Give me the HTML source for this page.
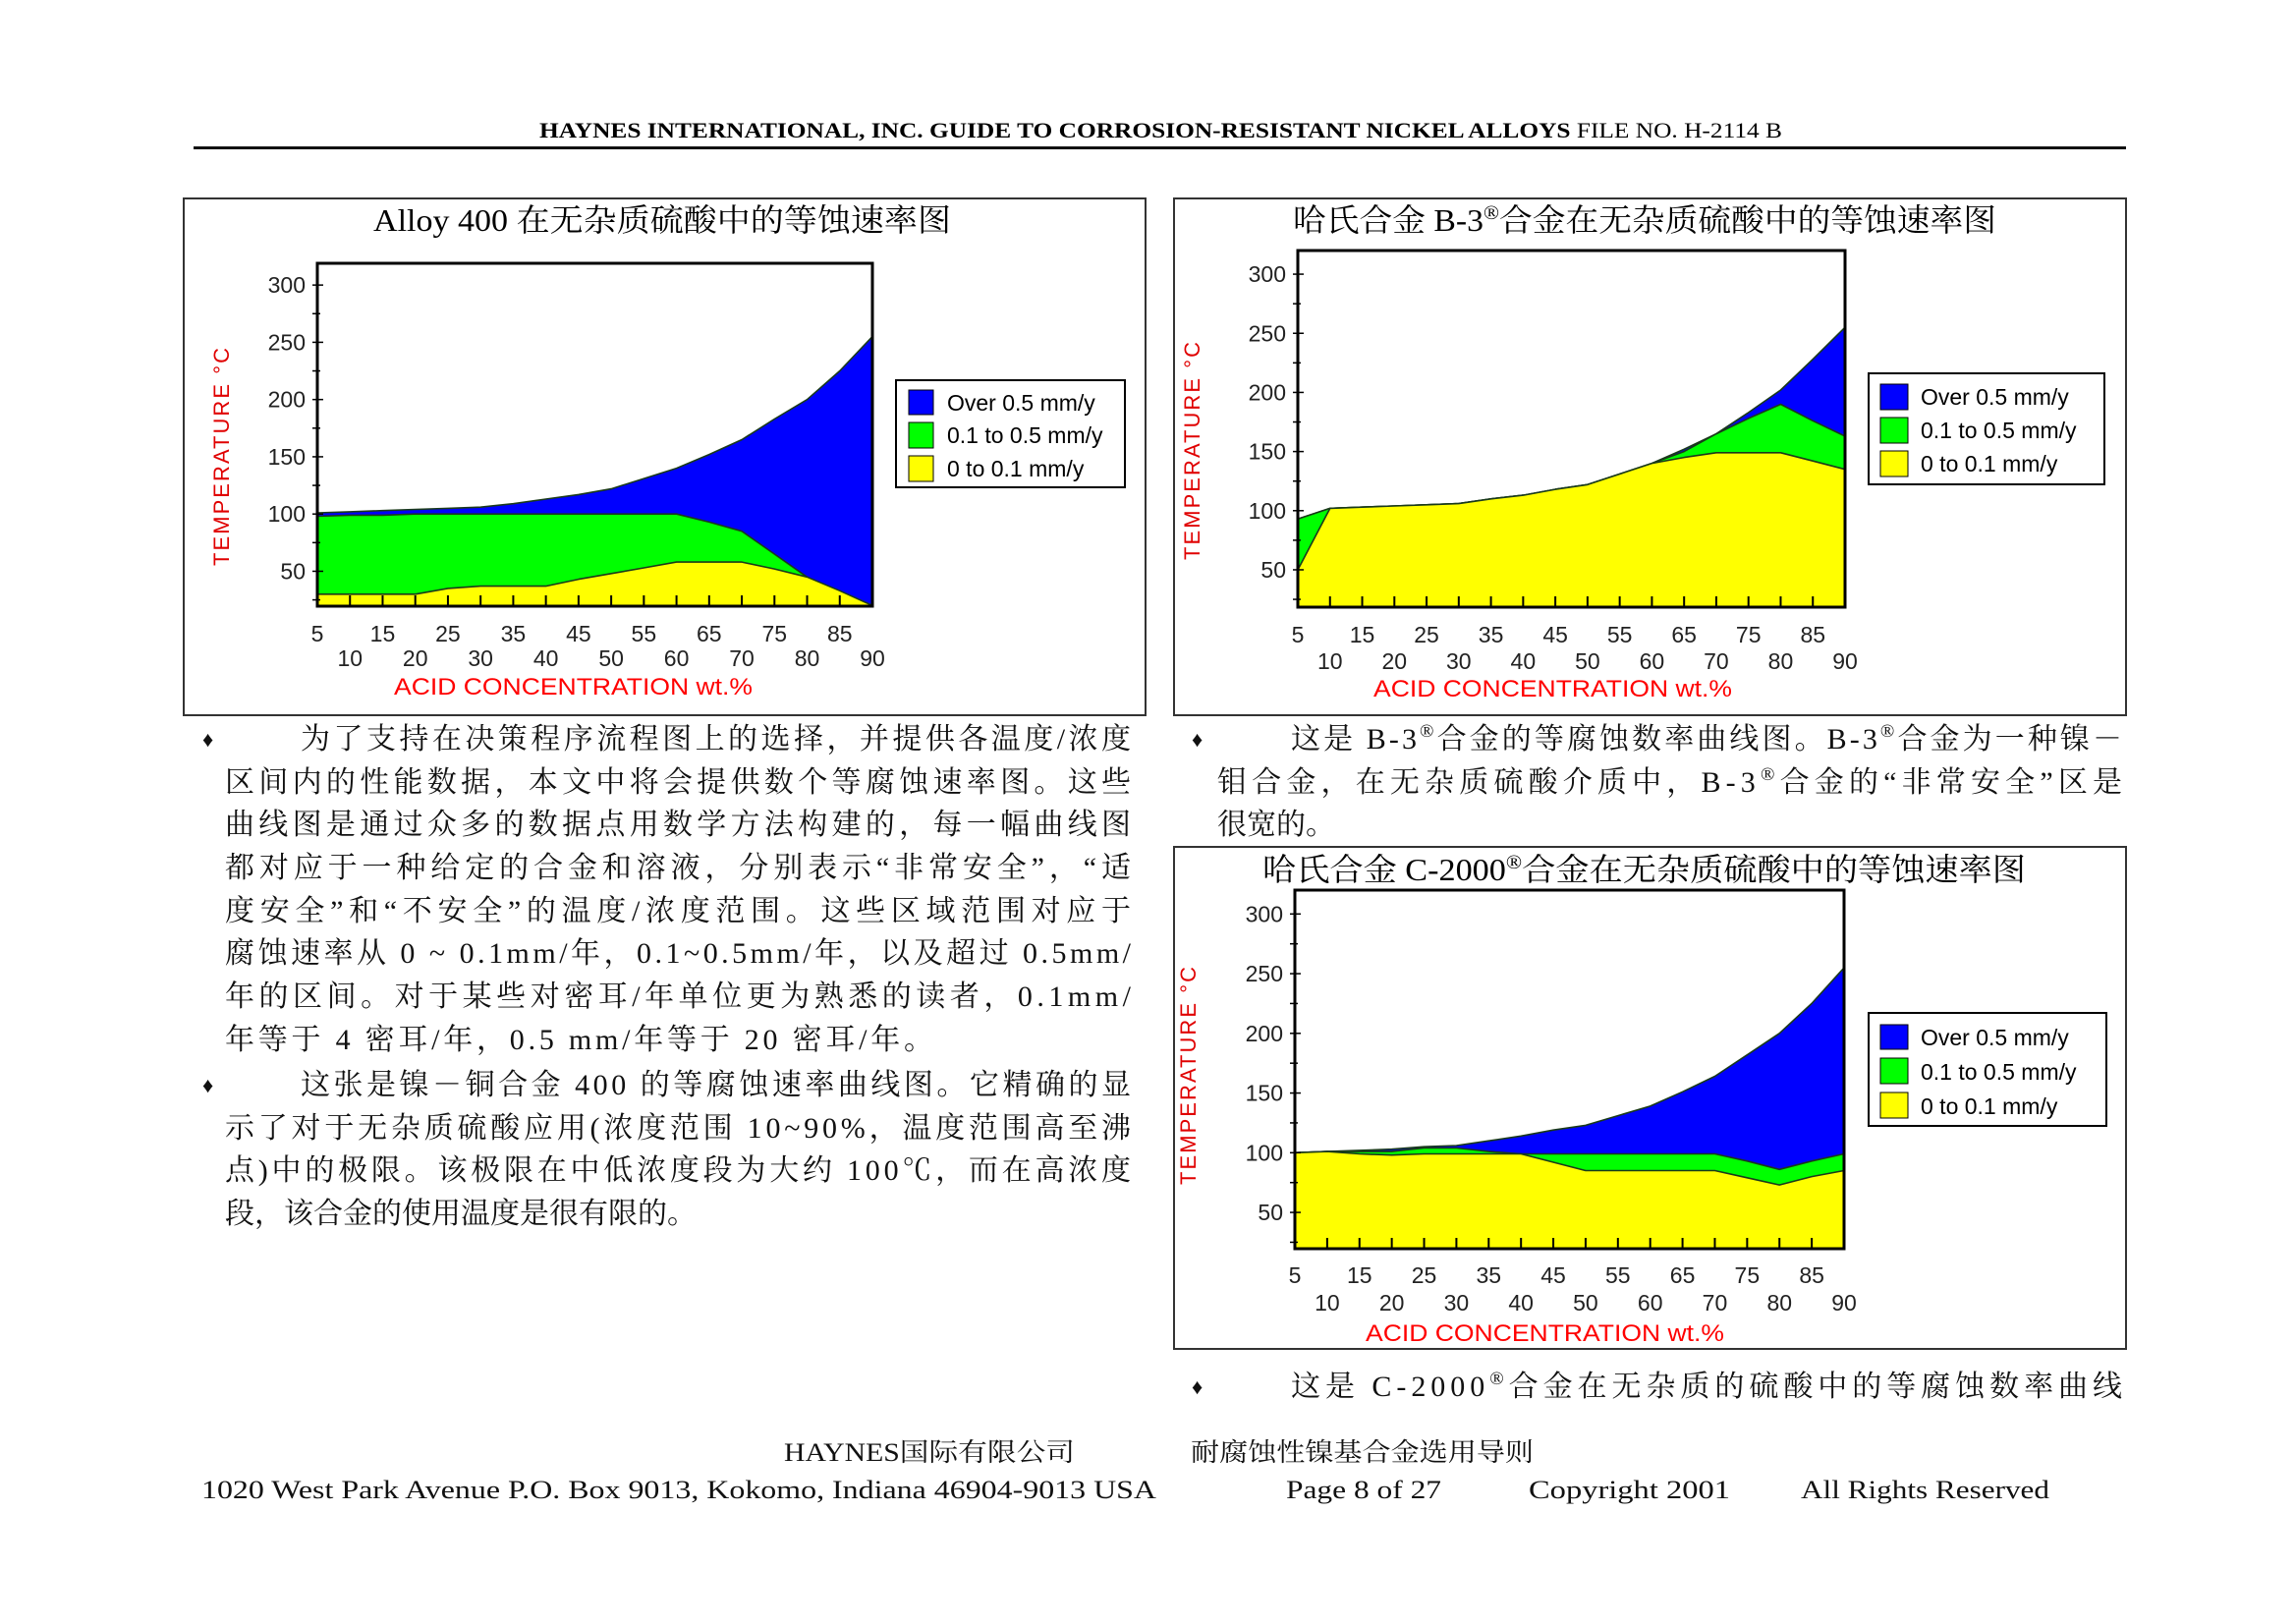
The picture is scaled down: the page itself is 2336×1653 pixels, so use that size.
<!DOCTYPE html>
<html><head><meta charset="utf-8"><style>
html,body{margin:0;padding:0;background:#fff;}
svg{display:block;}
.ser{font-family:"Liberation Serif","Noto Serif CJK SC",serif;}
.sans{font-family:"Liberation Sans","Noto Sans CJK SC",sans-serif;}
</style></head><body>
<svg id="page" width="2336" height="1653" viewBox="0 0 2336 1653" xmlns="http://www.w3.org/2000/svg">
<rect x="0" y="0" width="2336" height="1653" fill="#fff"/>
<text class="ser" x="549" y="140" font-size="22" font-weight="bold" textLength="1265" lengthAdjust="spacingAndGlyphs">HAYNES INTERNATIONAL, INC.    GUIDE TO CORROSION-RESISTANT NICKEL ALLOYS    <tspan font-weight="normal">FILE NO. H-2114 B</tspan></text>
<rect x="197" y="149" width="1967" height="3" fill="#111"/>

<rect x="187" y="202" width="979" height="526" fill="none" stroke="#333" stroke-width="2"/>
<rect x="1195" y="202" width="969" height="526" fill="none" stroke="#333" stroke-width="2"/>
<rect x="1195" y="862" width="969" height="511" fill="none" stroke="#333" stroke-width="2"/>

<text class="ser" x="380" y="235" font-size="32" textLength="588" lengthAdjust="spacingAndGlyphs">Alloy 400 在无杂质硫酸中的等蚀速率图</text>
<text class="ser" x="1316" y="235" font-size="32" textLength="716" lengthAdjust="spacingAndGlyphs">哈氏合金 B-3<tspan font-size="20" dy="-12">®</tspan><tspan dy="12">合金在无杂质硫酸中的等蚀速率图</tspan></text>
<text class="ser" x="1285" y="896" font-size="32" textLength="777" lengthAdjust="spacingAndGlyphs">哈氏合金 C-2000<tspan font-size="20" dy="-12">®</tspan><tspan dy="12">合金在无杂质硫酸中的等蚀速率图</tspan></text>

<g id="chart1"></g>
<g id="chart2"></g>
<g id="chart3"></g>

<!-- legends -->
<g class="sans" font-size="23">
<rect x="912" y="387" width="233" height="109" fill="#fff" stroke="#000" stroke-width="2"/>
<rect x="925" y="397" width="25" height="25" fill="#0000ff" stroke="#000"/>
<rect x="925" y="430" width="25" height="26" fill="#00ff00" stroke="#000"/>
<rect x="925" y="464" width="25" height="26" fill="#ffff00" stroke="#000"/>
<text x="964" y="418">Over 0.5 mm/y</text>
<text x="964" y="451">0.1 to 0.5 mm/y</text>
<text x="964" y="485">0 to 0.1 mm/y</text>
</g>
<g class="sans" font-size="23">
<rect x="1902" y="380" width="240" height="113" fill="#fff" stroke="#000" stroke-width="2"/>
<rect x="1914" y="391" width="28" height="26" fill="#0000ff" stroke="#000"/>
<rect x="1914" y="425" width="28" height="26" fill="#00ff00" stroke="#000"/>
<rect x="1914" y="459" width="28" height="26" fill="#ffff00" stroke="#000"/>
<text x="1955" y="412">Over 0.5 mm/y</text>
<text x="1955" y="446">0.1 to 0.5 mm/y</text>
<text x="1955" y="480">0 to 0.1 mm/y</text>
</g>
<g class="sans" font-size="23">
<rect x="1902" y="1031" width="242" height="115" fill="#fff" stroke="#000" stroke-width="2"/>
<rect x="1914" y="1043" width="28" height="25" fill="#0000ff" stroke="#000"/>
<rect x="1914" y="1077" width="28" height="26" fill="#00ff00" stroke="#000"/>
<rect x="1914" y="1112" width="28" height="26" fill="#ffff00" stroke="#000"/>
<text x="1955" y="1064">Over 0.5 mm/y</text>
<text x="1955" y="1099">0.1 to 0.5 mm/y</text>
<text x="1955" y="1134">0 to 0.1 mm/y</text>
</g>

<!-- left paragraphs -->
<g class="ser" font-size="30" fill="#111">
<text x="206" y="760" font-size="22">♦</text>
<text x="306" y="762" textLength="845" lengthAdjust="spacing">为了支持在决策程序流程图上的选择，并提供各温度/浓度</text>
<text x="229" y="806" textLength="922" lengthAdjust="spacing">区间内的性能数据，本文中将会提供数个等腐蚀速率图。这些</text>
<text x="229" y="849" textLength="922" lengthAdjust="spacing">曲线图是通过众多的数据点用数学方法构建的，每一幅曲线图</text>
<text x="229" y="893" textLength="922" lengthAdjust="spacing">都对应于一种给定的合金和溶液，分别表示“非常安全”，“适</text>
<text x="229" y="937" textLength="922" lengthAdjust="spacing">度安全”和“不安全”的温度/浓度范围。这些区域范围对应于</text>
<text x="229" y="980" textLength="922" lengthAdjust="spacing">腐蚀速率从 0 ~ 0.1mm/年，0.1~0.5mm/年，以及超过 0.5mm/</text>
<text x="229" y="1024" textLength="922" lengthAdjust="spacing">年的区间。对于某些对密耳/年单位更为熟悉的读者，0.1mm/</text>
<text x="229" y="1068" textLength="721" lengthAdjust="spacing">年等于 4 密耳/年，0.5 mm/年等于 20 密耳/年。</text>
<text x="206" y="1112" font-size="22">♦</text>
<text x="306" y="1114" textLength="845" lengthAdjust="spacing">这张是镍－铜合金 400 的等腐蚀速率曲线图。它精确的显</text>
<text x="229" y="1158" textLength="922" lengthAdjust="spacing">示了对于无杂质硫酸应用(浓度范围 10~90%，温度范围高至沸</text>
<text x="229" y="1201" textLength="922" lengthAdjust="spacing">点)中的极限。该极限在中低浓度段为大约 100℃，而在高浓度</text>
<text x="229" y="1245" textLength="480" lengthAdjust="spacing">段，该合金的使用温度是很有限的。</text>
</g>

<!-- right paragraphs -->
<g class="ser" font-size="30" fill="#111">
<text x="1213" y="760" font-size="22">♦</text>
<text x="1314" y="762" textLength="846" lengthAdjust="spacing">这是 B-3<tspan font-size="19" dy="-12">®</tspan><tspan dy="12">合金的等腐蚀数率曲线图。B-3</tspan><tspan font-size="19" dy="-12">®</tspan><tspan dy="12">合金为一种镍－</tspan></text>
<text x="1239" y="806" textLength="921" lengthAdjust="spacing">钼合金，在无杂质硫酸介质中，B-3<tspan font-size="19" dy="-12">®</tspan><tspan dy="12">合金的“非常安全”区是</tspan></text>
<text x="1239" y="849">很宽的。</text>
<text x="1213" y="1419" font-size="22">♦</text>
<text x="1314" y="1421" textLength="846" lengthAdjust="spacing">这是 C-2000<tspan font-size="19" dy="-12">®</tspan><tspan dy="12">合金在无杂质的硫酸中的等腐蚀数率曲线</tspan></text>
</g>

<!-- footer -->
<g class="ser" font-size="26" fill="#111">
<text x="798" y="1487" textLength="296" lengthAdjust="spacingAndGlyphs">HAYNES国际有限公司</text>
<text x="1212" y="1487" textLength="349" lengthAdjust="spacingAndGlyphs">耐腐蚀性镍基合金选用导则</text>
<text x="205" y="1525" textLength="972" lengthAdjust="spacingAndGlyphs">1020 West Park Avenue P.O. Box 9013, Kokomo, Indiana 46904-9013 USA</text>
<text x="1309" y="1525" textLength="158" lengthAdjust="spacingAndGlyphs">Page 8 of 27</text>
<text x="1556" y="1525" textLength="205" lengthAdjust="spacingAndGlyphs">Copyright 2001</text>
<text x="1833" y="1525" textLength="253" lengthAdjust="spacingAndGlyphs">All Rights Reserved</text>
</g>
</svg>
<script>
const xCats = [5,10,15,20,25,30,35,40,45,50,55,60,65,70,75,80,85,90];
const yTickLabels = [50,100,150,200,250,300];
const xTopLabels = [5,15,25,35,45,55,65,75,85];
const xBottomLabels = [10,20,30,40,50,60,70,80,90];
// Chart 1: Alloy 400
const c1Over = [101,102,103,104,105,106,109,113,117,122,131,140,152,165,183,200,225,255];
const c1Mid  = [98,99,99,100,100,100,100,100,100,100,100,100,93,85,65,45,30,20];
const c1Low  = [30,30,30,30,35,37,37,37,43,48,53,58,58,58,52,45,33,20];
// Chart 2: B-3
const c2Over = [93,102,103,104,105,106,110,113,118,122,131,140,152,165,183,202,228,255];
const c2Mid  = [93,102,103,104,105,106,110,113,118,122,131,140,150,165,178,190,176,163];
const c2Low  = [50,102,103,104,105,106,110,113,118,122,131,140,145,149,149,149,142,135];
// Chart 3: C-2000
const c3Over = [100,101,102,103,105,106,110,114,119,123,131,139,151,164,182,200,225,255];
const c3Mid  = [100,101,101,101,104,104,101,99,99,99,99,99,99,99,93,86,93,99];
const c3Low  = [100,101,99,98,99,99,99,99,92,85,85,85,85,85,79,73,80,85];

const NS = 'http://www.w3.org/2000/svg';
function mk(tag, attrs, parent){
  const e = document.createElementNS(NS, tag);
  for (const k in attrs) e.setAttribute(k, attrs[k]);
  parent.appendChild(e);
  return e;
}
function drawChart(gid, G, over, mid, low){
  const g = document.getElementById(gid);
  const xs = v => G.L + (v - 5) / 85 * (G.R - G.L);
  const ys = v => G.B - (v - G.yMin) / (G.yMax - G.yMin) * (G.B - G.T);
  const area = (arr, color, name) => {
    let d = 'M' + xs(xCats[0]) + ',' + G.B;
    arr.forEach((v,i)=>{ d += ' L' + xs(xCats[i]).toFixed(1) + ',' + ys(v).toFixed(1); });
    d += ' L' + xs(xCats[xCats.length-1]) + ',' + G.B + ' Z';
    const p = mk('path', {d:d, fill:color, stroke:'#1a3a1a', 'stroke-width':'1.6', 'stroke-linejoin':'round'}, g);
    
    
  };
  area(over, '#0000ff', 'area-over-0.5');
  area(mid, '#00ff00', 'area-0.1-to-0.5');
  area(low, '#ffff00', 'area-0-to-0.1');
  const fr = mk('rect', {x:G.L, y:G.T, width:G.R-G.L, height:G.B-G.T, fill:'none', stroke:'#000', 'stroke-width':'3'}, g);
  
  
  // x ticks inside bottom
  xCats.forEach(v=>{
    const t = mk('line', {x1:xs(v), x2:xs(v), y1:G.B, y2:G.B-11, stroke:'#000', 'stroke-width':'2'}, g);
    
    
  });
  // y ticks
  for (let v = 25; v <= 300; v += 25){
    const t = mk('line', {x1:G.L-5, x2:G.L+(v%50===0?6:3), y1:ys(v), y2:ys(v), stroke:'#000', 'stroke-width':'1.5'}, g);
    
    
  }
  yTickLabels.forEach(v=>{
    const t = mk('text', {x:G.L-12, y:ys(v)+8, 'text-anchor':'end', 'font-size':'23', 'class':'sans', fill:'#222'}, g);
    t.textContent = v;
    
    
  });
  xTopLabels.forEach(v=>{
    const t = mk('text', {x:xs(v), y:G.xr1+8, 'text-anchor':'middle', 'font-size':'23', 'class':'sans', fill:'#222'}, g);
    t.textContent = v;
    
    
  });
  xBottomLabels.forEach(v=>{
    const t = mk('text', {x:xs(v), y:G.xr2+8, 'text-anchor':'middle', 'font-size':'23', 'class':'sans', fill:'#222'}, g);
    t.textContent = v;
    
    
  });
  const xt = mk('text', {x:G.xtX, y:G.xtY+9, 'font-size':'24', 'class':'sans', fill:'#ff0000', textLength:'365', lengthAdjust:'spacingAndGlyphs'}, g);
  xt.textContent = 'ACID CONCENTRATION  wt.%';
  
  
  const yt = mk('text', {x:0, y:0, 'font-size':'22', 'class':'sans', fill:'#e00000', 'text-anchor':'middle', textLength:'222', lengthAdjust:'spacing', transform:'translate(' + (G.ytX+8) + ',' + G.ytY + ') rotate(-90)'}, g);
  yt.textContent = 'TEMPERATURE  °C';
  
  
}
drawChart('chart1', {L:323, R:888, T:268, B:617, yMin:19.5, yMax:319, xr1:645, xr2:670, xtX:401, xtY:698, ytX:225, ytY:465}, c1Over, c1Mid, c1Low);
drawChart('chart2', {L:1321, R:1878, T:255, B:618, yMin:18.4, yMax:320, xr1:646, xr2:673, xtX:1398, xtY:700, ytX:1213, ytY:459}, c2Over, c2Mid, c2Low);
drawChart('chart3', {L:1318, R:1877, T:906, B:1271, yMin:19.6, yMax:320, xr1:1298, xr2:1326, xtX:1390, xtY:1356, ytX:1209, ytY:1095}, c3Over, c3Mid, c3Low);
</script>
</body></html>
